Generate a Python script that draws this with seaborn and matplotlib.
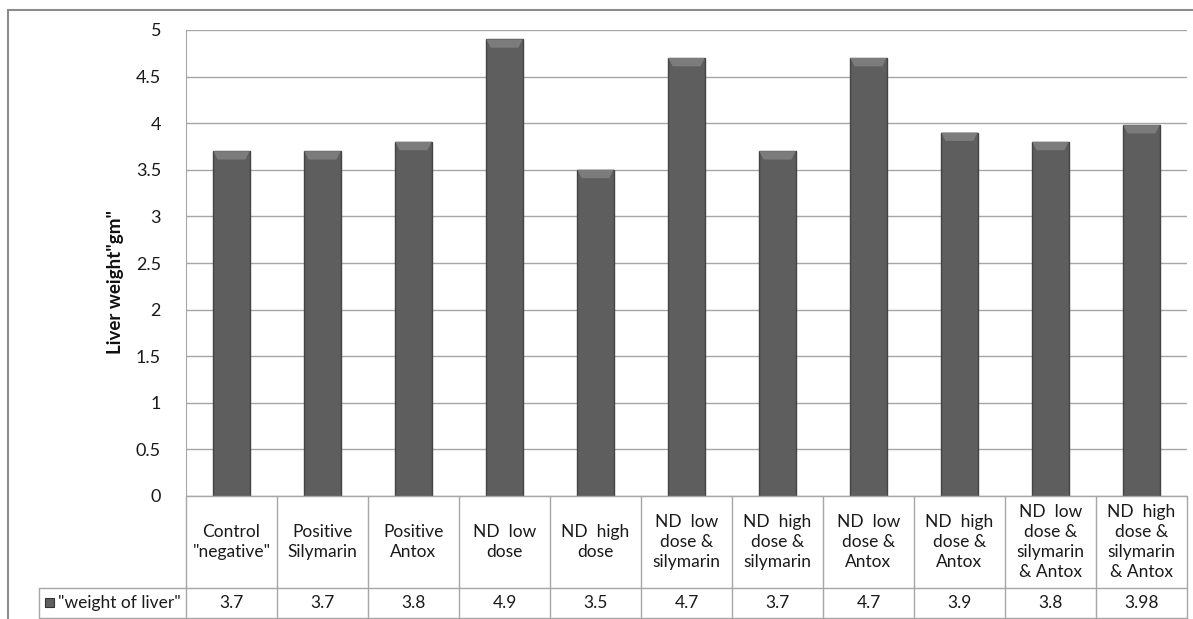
import numpy as np
import pandas as pd
import seaborn as sns
import matplotlib.pyplot as plt
from matplotlib.patches import Rectangle, Polygon
from matplotlib.lines import Line2D

# data
groups = [
    'Control\n"negative"',
    "Positive\nSilymarin",
    "Positive\nAntox",
    "ND  low\ndose",
    "ND  high\ndose",
    "ND  low\ndose &\nsilymarin",
    "ND  high\ndose &\nsilymarin",
    "ND  low\ndose &\nAntox",
    "ND  high\ndose &\nAntox",
    "ND  low\ndose &\nsilymarin\n& Antox",
    "ND  high\ndose &\nsilymarin\n& Antox",
]
liver_weight = [3.7, 3.7, 3.8, 4.9, 3.5, 4.7, 3.7, 4.7, 3.9, 3.8, 3.98]
value_labels = ["3.7", "3.7", "3.8", "4.9", "3.5", "4.7", "3.7", "4.7", "3.9", "3.8", "3.98"]
series_name = '"weight of liver"'
yticks = [0, 0.5, 1, 1.5, 2, 2.5, 3, 3.5, 4, 4.5, 5]

df = pd.DataFrame({"group": groups, "weight": liver_weight})

sns.set_style("white")
plt.rcParams["font.family"] = ["Lato", "DejaVu Sans"]

W, H = 1193, 619
fig = plt.figure(figsize=(W / 100, H / 100), dpi=100)
ax = fig.add_axes([186 / W, 1 - 496 / H, (1187 - 186) / W, (496 - 30) / H])

grid_c = "#a6a6a6"
for t in yticks:
    ax.axhline(t, color=grid_c, lw=1, zorder=0)

sns.barplot(data=df, x="group", y="weight", color="#5e5e5e", width=0.4,
            edgecolor="#444444", linewidth=1, saturation=1, ax=ax, zorder=2)

# soft bevel on top of each bar (Excel-like)
for p in ax.patches[:]:
    x0, w, h = p.get_x(), p.get_width(), p.get_height()
    d = 0.09
    ax.add_patch(Polygon([(x0, h), (x0 + w, h), (x0 + w - w * 0.12, h - d),
                          (x0 + w * 0.12, h - d)], closed=True,
                         color="#7c7c7c", lw=0, zorder=3))

ax.set_ylim(0, 5)
ax.set_xlim(-0.5, len(groups) - 0.5)
ax.set_yticks(yticks)
ax.set_yticklabels([f"{t:g}" for t in yticks], fontsize=13, color="#1a1a1a")
ax.tick_params(axis="y", length=0, pad=18)
ax.set_xticks([])
ax.set_xlabel("")
ax.set_ylabel('Liver weight"gm"', fontsize=13.5, fontweight="bold", color="#111111")
ax.yaxis.set_label_coords(-0.062, 0.46)
for s in ["top", "right", "bottom"]:
    ax.spines[s].set_visible(False)
ax.spines["left"].set_color(grid_c)

# data table under the plot
tr = ax.get_xaxis_transform()
row1 = -92 / 466
row2 = -122 / 466
line_kw = dict(color=grid_c, lw=1, clip_on=False, transform=tr)
for i in range(len(groups) + 1):
    ax.add_line(Line2D([i - 0.5, i - 0.5], [0, row2], **line_kw))
ax.add_line(Line2D([-0.5, len(groups) - 0.5], [0, 0], **line_kw))
ax.add_line(Line2D([-0.5, len(groups) - 0.5], [row1, row1], **line_kw))
ax.add_line(Line2D([-0.5, len(groups) - 0.5], [row2, row2], **line_kw))

for i, (g, v) in enumerate(zip(groups, value_labels)):
    ax.text(i, row1 / 2, g, transform=tr, ha="center", va="center",
            fontsize=12.5, color="#1a1a1a", linespacing=1.3, clip_on=False)
    ax.text(i, (row1 + row2) / 2, v, transform=tr, ha="center", va="center",
            fontsize=12.5, color="#1a1a1a", clip_on=False)

# legend cell
axf = ax.transAxes
lx = (39 - 186) / 1001
ax.add_line(Line2D([lx, 0], [row1, row1], color=grid_c, lw=1, clip_on=False, transform=axf))
ax.add_line(Line2D([lx, 0], [row2, row2], color=grid_c, lw=1, clip_on=False, transform=axf))
ax.add_line(Line2D([lx, lx], [row1, row2], color=grid_c, lw=1, clip_on=False, transform=axf))
ax.add_patch(Rectangle(((45 - 186) / 1001, (row1 + row2) / 2 - 0.0095), 9 / 1001, 9 / 466,
                       transform=axf, color="#5e5e5e", ec="#333333", lw=0.8, clip_on=False))
ax.text((58 - 186) / 1001, (row1 + row2) / 2, series_name, transform=axf,
        ha="left", va="center", fontsize=12.5, color="#1a1a1a", clip_on=False)

# outer chart border
fig.add_artist(Rectangle((8 / W, -0.05), 1.1, 1 - 10 / H + 0.05, transform=fig.transFigure,
                         fill=False, ec="#8c8c8c", lw=1.5))

fig.savefig("out.png", dpi=100)
